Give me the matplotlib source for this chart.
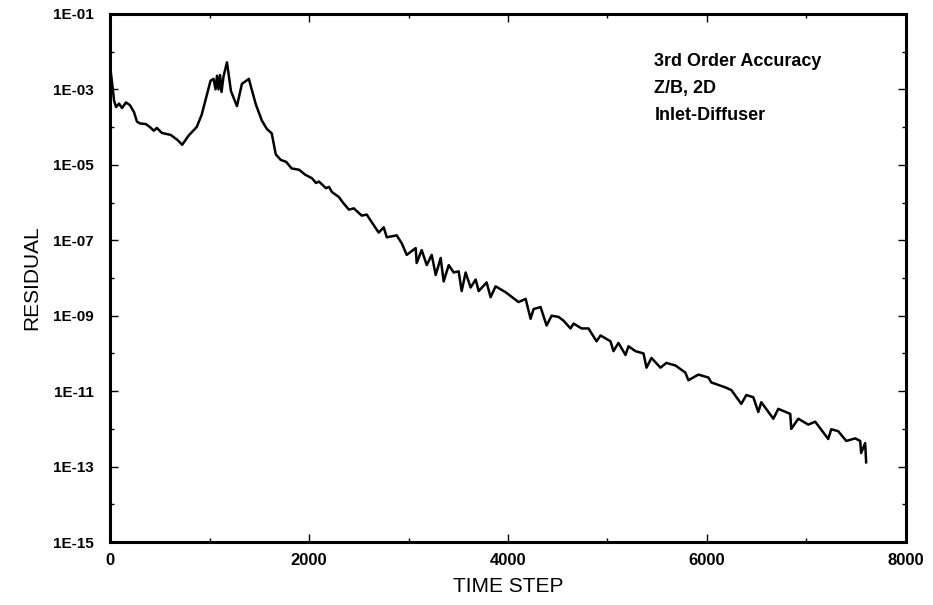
import numpy as np
import matplotlib
matplotlib.use("Agg")
import matplotlib.pyplot as plt
from matplotlib.ticker import FixedLocator, FuncFormatter, NullFormatter

# Residual history (time step, residual)
time_step = [
    0, 20, 40, 60, 90, 120, 160, 200, 240, 270, 300, 360, 400, 440, 470,
    520, 610, 680, 725, 790, 870, 920, 1010, 1040, 1060, 1075, 1090, 1105,
    1120, 1140, 1175, 1215, 1275, 1325, 1395, 1415, 1465, 1525, 1575, 1625,
    1665, 1715, 1770, 1825, 1900, 1960, 2030, 2070, 2100, 2170, 2200, 2230,
    2300, 2340, 2400, 2450, 2530, 2580, 2620, 2700, 2751, 2781, 2881, 2932,
    2982, 3072, 3082, 3132, 3183,
    3233, 3273, 3323, 3353, 3404, 3454, 3504, 3534, 3574, 3624, 3675, 3705,
    3785, 3825, 3875, 3976, 4106, 4177, 4227, 4257, 4327, 4388, 4438, 4508,
    4558, 4628, 4659, 4739, 4809, 4890, 4930, 5030, 5060, 5110, 5181, 5211,
    5281, 5362, 5392, 5442, 5532, 5592, 5683, 5783, 5813, 5914, 6014, 6044,
    6185, 6245, 6345, 6395, 6466, 6516, 6546, 6667, 6717, 6837, 6847, 6918,
    7018, 7088, 7219, 7249, 7319, 7400, 7490, 7540, 7550, 7590, 7600,
]
residual = [
    4.0e-3, 1.5e-3, 5.0e-4, 3.4e-4, 4.2e-4, 3.2e-4, 4.5e-4, 3.8e-4, 2.5e-4,
    1.4e-4, 1.25e-4, 1.2e-4, 1.0e-4, 8.0e-5, 9.5e-5, 7.0e-5, 6.2e-5, 4.5e-5,
    3.4e-5, 6.0e-5, 1.0e-4, 2.1e-4, 1.7e-3, 1.9e-3, 1.0e-3, 2.3e-3, 1.0e-3,
    2.4e-3, 8.5e-4, 2.2e-3, 5.2e-3, 9.0e-4, 3.6e-4, 1.4e-3, 1.9e-3, 1.2e-3,
    4.0e-4, 1.5e-4, 9.0e-5, 6.8e-5, 1.9e-5, 1.35e-5, 1.2e-5, 8.0e-6, 7.4e-6,
    5.5e-6, 4.4e-6, 3.3e-6, 3.6e-6, 2.4e-6, 2.6e-6, 1.9e-6,
    1.4e-6, 1.0e-6, 6.5e-7, 7.0e-7, 4.5e-7, 4.8e-7, 3.3e-7,
    1.6e-7, 2.2e-7, 1.2e-7, 1.35e-7, 8.3e-8, 4.1e-8, 6.2e-8, 2.5e-8, 5.5e-8,
    2.2e-8, 4.1e-8, 1.2e-8, 3.4e-8, 8.1e-9, 2.2e-8, 1.4e-8, 1.5e-8, 4.5e-9,
    1.4e-8, 5.6e-9, 9.1e-9, 4.5e-9, 7.6e-9, 3.1e-9, 6.0e-9, 4.2e-9, 2.3e-9,
    2.8e-9, 8.3e-10, 1.5e-9, 1.7e-9, 5.5e-10, 1.0e-9, 9.3e-10, 7.4e-10,
    4.6e-10, 6.2e-10, 4.6e-10, 4.6e-10, 2.1e-10, 3.0e-10, 2.1e-10, 1.15e-10,
    1.9e-10, 9.1e-11, 1.55e-10, 1.15e-10, 1.0e-10, 4.2e-11, 7.6e-11, 4.2e-11,
    5.6e-11, 4.8e-11, 3.1e-11, 1.95e-11, 2.75e-11, 2.3e-11, 1.7e-11, 1.26e-11,
    1.07e-11, 4.6e-12, 7.9e-12, 6.9e-12, 2.8e-12, 5.1e-12, 1.86e-12, 3.4e-12,
    2.5e-12, 1.0e-12, 1.86e-12, 1.3e-12, 1.55e-12, 5.4e-13, 9.8e-13, 8.7e-13,
    4.8e-13, 5.6e-13, 4.8e-13, 2.3e-13, 4.2e-13, 1.3e-13,
]

notes = ["3rd Order Accuracy", "Z/B, 2D", "Inlet-Diffuser"]

plt.rcParams['font.family'] = ['Liberation Sans', 'DejaVu Sans']

fig = plt.figure(figsize=(9.33, 6.05), dpi=100)
ax = fig.add_axes([0.118, 0.104, 0.853, 0.873])

ax.plot(time_step, residual, color='black', linewidth=1.8)

ax.set_yscale('log')
ax.set_xlim(0, 8000)
ax.set_ylim(1e-15, 1e-1)

major_y = [10.0 ** e for e in range(-15, 0, 2)]
minor_y = [10.0 ** e for e in range(-14, 0, 2)]
ax.yaxis.set_major_locator(FixedLocator(major_y))
ax.yaxis.set_minor_locator(FixedLocator(minor_y))
ax.yaxis.set_major_formatter(
    FuncFormatter(lambda v, p: "1E-%02d" % round(-np.log10(v))))
ax.yaxis.set_minor_formatter(NullFormatter())
ax.set_xticks([0, 2000, 4000, 6000, 8000])
ax.set_xticks([1000, 3000, 5000, 7000], minor=True)

ax.tick_params(which='both', direction='in', top=True, right=True)
ax.tick_params(which='major', length=6, width=1)
ax.tick_params(which='minor', length=3, width=1)
ax.tick_params(axis='y', which='major', labelsize=11, pad=12)
ax.tick_params(axis='x', which='major', labelsize=12, pad=8)
for lab in ax.get_xticklabels() + ax.get_yticklabels():
    lab.set_fontweight('bold')

for s in ax.spines.values():
    s.set_linewidth(2.2)

ax.set_xlabel("TIME STEP", fontsize=15, labelpad=6)
ax.set_ylabel("RESIDUAL", fontsize=15, labelpad=8)

# annotation block, top right
for i, t in enumerate(notes):
    ax.text(0.684, 0.91 - i * 0.051, t, transform=ax.transAxes,
            fontsize=13, fontweight='bold', va='center', ha='left')

fig.savefig("out.png", dpi=100)
